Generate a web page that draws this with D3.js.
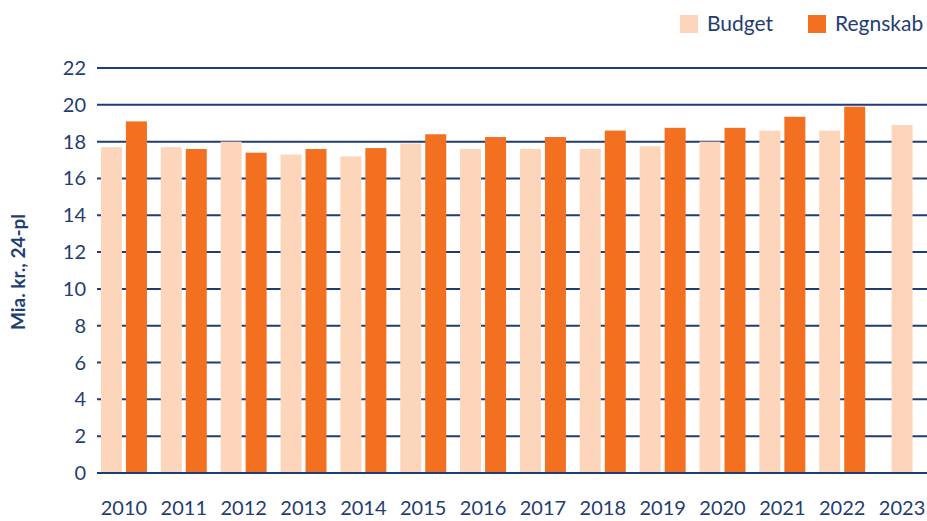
<!DOCTYPE html>
<html>
<head>
<meta charset="utf-8">
<script src="https://cdn.jsdelivr.net/npm/d3@7"></script>
<style>
  body { margin: 0; background: #fff; }
  svg text { font-family: Lato, "Open Sans", sans-serif; fill: #1f3d73; }
</style>
</head>
<body>
<svg width="927" height="521"></svg>
<script>
const years = ["2010","2011","2012","2013","2014","2015","2016","2017","2018","2019","2020","2021","2022","2023"];
const budget = [17.7, 17.7, 18.0, 17.3, 17.2, 17.9, 17.6, 17.6, 17.6, 17.75, 18.0, 18.6, 18.6, 18.9];
const regnskab = [19.1, 17.6, 17.4, 17.6, 17.65, 18.4, 18.25, 18.25, 18.6, 18.75, 18.75, 19.35, 19.9, null];
const yTicks = [0, 2, 4, 6, 8, 10, 12, 14, 16, 18, 20, 22];

const navy = "#1f3d73";
const colors = { budget: "#fdd5bb", regnskab: "#f37021" };

const svg = d3.select("svg");

const x = d3.scaleBand().domain(years).range([94, 932]);
const y = d3.scaleLinear().domain([0, 22]).range([473, 68]);

// gridlines
svg.append("g")
  .selectAll("line")
  .data(yTicks)
  .join("line")
  .attr("x1", 97)
  .attr("x2", 927)
  .attr("y1", d => y(d))
  .attr("y2", d => y(d))
  .attr("stroke", navy)
  .attr("stroke-width", 2);

// y tick labels
svg.append("g")
  .selectAll("text")
  .data(yTicks)
  .join("text")
  .attr("x", 86)
  .attr("y", d => y(d) + 7)
  .attr("text-anchor", "end")
  .attr("font-size", 20)
  .text(d => d);

const barW = 21;
const gap = 2;

// budget bars (centered when there is no regnskab)
svg.append("g")
  .selectAll("rect")
  .data(years.map((yr, i) => ({ yr, v: budget[i], alone: regnskab[i] == null })))
  .join("rect")
  .attr("x", d => {
    const c = x(d.yr) + x.bandwidth() / 2;
    return d.alone ? c - barW / 2 : c - gap - barW;
  })
  .attr("y", d => y(d.v))
  .attr("width", barW)
  .attr("height", d => y(0) - y(d.v))
  .attr("fill", colors.budget);

svg.append("g")
  .selectAll("rect")
  .data(years.map((yr, i) => ({ yr, v: regnskab[i] })).filter(d => d.v != null))
  .join("rect")
  .attr("x", d => x(d.yr) + x.bandwidth() / 2 + gap)
  .attr("y", d => y(d.v))
  .attr("width", barW)
  .attr("height", d => y(0) - y(d.v))
  .attr("fill", colors.regnskab);

// redraw zero line on top of bars
svg.append("line")
  .attr("x1", 97).attr("x2", 927)
  .attr("y1", y(0)).attr("y2", y(0))
  .attr("stroke", navy).attr("stroke-width", 2);

// x labels
svg.append("g")
  .selectAll("text")
  .data(years)
  .join("text")
  .attr("x", d => x(d) + x.bandwidth() / 2)
  .attr("y", 515)
  .attr("text-anchor", "middle")
  .attr("font-size", 20)
  .text(d => d);

// y axis title
svg.append("text")
  .attr("transform", "translate(25,272) rotate(-90)")
  .attr("text-anchor", "middle")
  .attr("font-size", 19)
  .attr("font-weight", "bold")
  .text("Mia. kr., 24-pl");

// legend
const legend = [
  { name: "Budget", color: colors.budget, x: 680 },
  { name: "Regnskab", color: colors.regnskab, x: 808 }
];
const lg = svg.append("g")
  .selectAll("g")
  .data(legend)
  .join("g")
  .attr("transform", d => `translate(${d.x},15)`);
lg.append("rect").attr("width", 18).attr("height", 18).attr("fill", d => d.color);
lg.append("text").attr("x", 27).attr("y", 16).attr("font-size", 21).text(d => d.name);
</script>
</body>
</html>
